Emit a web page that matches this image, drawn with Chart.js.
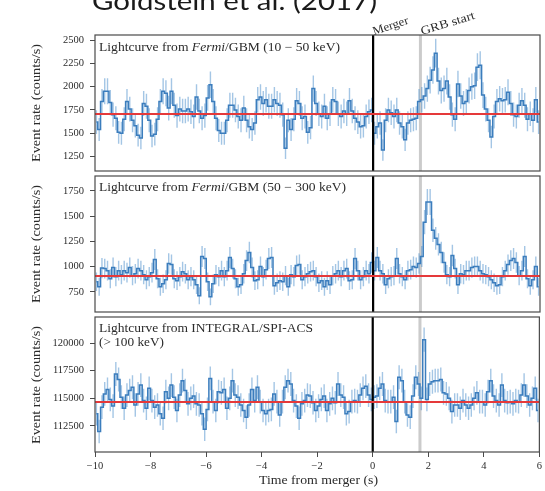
<!DOCTYPE html>
<html>
<head>
<meta charset="utf-8">
<script src="https://cdn.jsdelivr.net/npm/chart.js@4/dist/chart.umd.min.js"></script>
<style>
  html, body { margin: 0; padding: 0; background: #fff; }
  #wrap { position: relative; width: 545px; height: 491px; overflow: hidden; }
  canvas { position: absolute; left: 0; }
  svg { position: absolute; left: 0; top: 0; }
  .serif { font-family: "Liberation Serif", serif; fill: #2b2b2b; }
</style>
</head>
<body>
<div id="wrap">
  <canvas id="gbmLowChart" width="545" height="184" style="top:0px"></canvas>
  <canvas id="gbmHighChart" width="545" height="162" style="top:163px"></canvas>
  <canvas id="spiChart" width="545" height="187" style="top:304px"></canvas>
  <svg width="545" height="491">
    <text x="92" y="10" font-family="Lato, 'Open Sans', sans-serif" font-size="25" fill="#1a1a1a"
          textLength="285" lengthAdjust="spacingAndGlyphs">Goldstein et al. (2017)</text>
    <text class="serif" font-size="12" transform="translate(374,35) rotate(-18)" textLength="37" lengthAdjust="spacingAndGlyphs">Merger</text>
    <text class="serif" font-size="12" transform="translate(422,35) rotate(-17)" textLength="56" lengthAdjust="spacingAndGlyphs">GRB start</text>

    <text class="serif" font-size="12" x="99" y="50.5" textLength="241" lengthAdjust="spacingAndGlyphs">Lightcurve from <tspan font-style="italic">Fermi</tspan>/GBM (10 − 50 keV)</text>
    <text class="serif" font-size="12" x="99" y="191" textLength="247" lengthAdjust="spacingAndGlyphs">Lightcurve from <tspan font-style="italic">Fermi</tspan>/GBM (50 − 300 keV)</text>
    <text class="serif" font-size="12" x="99" y="332" textLength="214" lengthAdjust="spacingAndGlyphs">Lightcurve from INTEGRAL/SPI-ACS</text>
    <text class="serif" font-size="12" x="99" y="345.5" textLength="65" lengthAdjust="spacingAndGlyphs">(&gt; 100 keV)</text>

    <text class="serif" font-size="12" text-anchor="middle" transform="translate(39.5,103) rotate(-90)" textLength="118" lengthAdjust="spacingAndGlyphs">Event rate (counts/s)</text>
    <text class="serif" font-size="12" text-anchor="middle" transform="translate(39.5,244) rotate(-90)" textLength="118" lengthAdjust="spacingAndGlyphs">Event rate (counts/s)</text>
    <text class="serif" font-size="12" text-anchor="middle" transform="translate(39.5,385) rotate(-90)" textLength="118" lengthAdjust="spacingAndGlyphs">Event rate (counts/s)</text>

    <text class="serif" font-size="12" x="318.5" y="484" text-anchor="middle" textLength="119" lengthAdjust="spacingAndGlyphs">Time from merger (s)</text>
  </svg>
</div>
<script>
// 100 ms bins from -10 s to +6 s relative to the merger time
const binStart = -10;
const binWidth = 0.1;
const mergerTime = 0;
const grbStartTime = 1.7;
const xTickValues = [-10, -8, -6, -4, -2, 0, 2, 4, 6];

// Fermi/GBM 10-50 keV event rate (counts/s)
const gbmLowRate = [
  1620,1540,1840,1950,1950,1830,1700,1660,1510,1500,
  1650,1840,1760,1640,1580,1480,1450,1820,1790,1640,
  1470,1490,1650,1840,1950,1930,1770,1950,1800,1690,
  1760,1740,1740,1760,1730,1680,1890,1740,1660,1690,
  1880,2020,1840,1660,1530,1500,1500,1640,1800,1800,
  1750,1680,1640,1770,1640,1570,1540,1610,1860,1890,
  1820,1860,1790,1790,1860,1820,1800,1700,1340,1640,
  1540,1650,1850,1820,1660,1680,1510,1560,1980,1820,
  1710,1680,1790,1660,1710,1860,1840,1710,1680,1740,
  1710,1850,1740,1660,1620,1570,1580,1680,1730,1750,
  1500,1570,1610,1320,1640,1750,1720,1680,1750,1610,
  1570,1430,1610,1640,1650,1660,1840,1860,1900,1980,
  2070,2180,2360,2060,1960,1980,2060,1890,1700,1650,
  2030,1900,1820,1840,1960,2000,2010,2210,2230,1910,
  1760,1640,1460,1680,1840,1870,1850,1860,1940,1820,
  1700,1680,1800,1850,1800,1650,1710,1640,1860,1620
];
const gbmLowBackground = 1708;
const gbmLowRange = [1095, 2555];
const gbmLowTicks = [1250, 1500, 1750, 2000, 2250, 2500];

// Fermi/GBM 50-300 keV event rate (counts/s)
const gbmHighRate = [
  850,800,985,980,960,880,990,900,960,920,
  960,940,990,910,930,980,960,920,870,900,
  940,1070,880,800,830,870,1030,1020,880,860,
  900,950,930,870,900,870,820,710,1100,1080,
  850,700,830,920,900,960,900,960,1090,980,
  880,800,820,930,1060,1140,990,860,870,1000,
  900,970,1080,1090,810,840,860,850,910,800,
  920,900,1010,1020,870,900,930,950,960,900,
  840,860,800,860,820,910,930,960,900,960,
  980,860,870,1080,960,870,900,960,930,1040,
  960,1090,960,930,820,880,900,910,1080,930,
  900,870,960,970,1000,990,1030,1100,1440,1640,
  1640,1360,1280,1220,1140,1040,920,900,1110,980,
  820,930,920,960,960,990,1000,1000,960,930,
  920,900,870,840,810,820,900,960,1020,1060,
  1080,1040,910,960,1100,880,810,870,1000,800
];
const gbmHighBackground = 907;
const gbmHighRange = [550, 1898];
const gbmHighTicks = [750, 1000, 1250, 1500, 1750];

// INTEGRAL/SPI-ACS (> 100 keV) event rate (counts/s)
const spiRate = [
  113600,112000,114200,115400,115800,114900,114300,117200,116700,115100,
  114100,115300,115700,116000,114400,115400,116200,114800,114100,115900,
  114800,114200,114400,113600,113200,115600,115000,116200,115100,113900,
  115300,116600,115700,114500,115000,115200,114500,114400,113600,112200,
  114000,116800,114700,113900,115600,115500,115800,114100,115000,116600,
  115300,115100,114400,113900,113300,114400,115800,114800,116000,114700,
  113900,113600,113900,114000,115400,114700,113500,114700,116000,116600,
  116300,114800,114300,113200,114500,114800,115300,115200,114600,113900,
  114300,114900,115200,113900,114500,115000,114600,116300,115300,115100,
  113600,113800,114700,114800,114700,115300,115900,116100,115300,114900,
  115100,115200,115900,116300,114800,114700,114700,115100,112900,116900,
  116600,114700,113500,113300,115200,116900,116300,115000,120300,114900,
  116300,116500,116600,116600,116700,115500,115400,115000,113800,114400,
  114400,114100,114800,114400,114100,114400,115000,115500,114700,114700,
  114400,115600,116600,115200,114800,114400,116200,114800,114600,114700,
  114500,114800,114700,115300,116200,115200,114400,115000,115900,113900
];
const spiBackground = 114670;
const spiRange = [110150, 122350];
const spiTicks = [112500, 115000, 117500, 120000];

const binCenters = gbmLowRate.map((_, i) => binStart + binWidth * (i + 0.5));
const xMin = binStart;
const xMax = binStart + binWidth * gbmLowRate.length;

const stepColor = '#3b7dbd';
const errColor = 'rgba(74, 142, 204, 0.5)';
const bgColor = '#e5393a';
const tickFont = { family: "'Liberation Serif', serif", size: 10.5 };

// Poisson uncertainty of a rate measured in one bin
function rateError(rate) {
  return Math.sqrt(rate * binWidth) / binWidth;
}

// Vertical error segments, separated by gaps
function errorSegments(rates) {
  const pts = [];
  rates.forEach((r, i) => {
    const e = rateError(r);
    pts.push({ x: binCenters[i], y: r - e });
    pts.push({ x: binCenters[i], y: r + e });
    pts.push({ x: binCenters[i], y: null });
  });
  return pts;
}

const framePlugin = {
  id: 'frame',
  afterDraw(chart) {
    const { ctx, chartArea: a } = chart;
    ctx.save();
    ctx.strokeStyle = '#4a4a4a';
    ctx.lineWidth = 1.2;
    ctx.strokeRect(a.left, a.top, a.right - a.left, a.bottom - a.top);
    ctx.restore();
  }
};

function makePanel(canvasId, rates, background, range, yTicks, pad, showX) {
  const line = (data, color, width, order, extra) => Object.assign({
    data, borderColor: color, borderWidth: width, pointRadius: 0,
    fill: false, order, tension: 0
  }, extra || {});

  const xScale = {
    type: 'linear', min: xMin, max: xMax, display: showX,
    afterBuildTicks: s => { s.ticks = xTickValues.map(v => ({ value: v })); },
    ticks: {
      font: tickFont, color: '#2b2b2b', padding: 3, maxRotation: 0, autoSkip: false,
      callback: v => String(v).replace('-', '\u2212')
    },
    grid: { drawOnChartArea: false, drawTicks: true, tickLength: 5, color: '#4a4a4a' },
    border: { display: false }
  };
  if (showX) xScale.afterFit = s => { s.height = 39; };

  return new Chart(document.getElementById(canvasId), {
    type: 'line',
    data: {
      datasets: [
        line([{ x: xMin, y: background }, { x: xMax, y: background }], bgColor, 2, 0),
        line([{ x: mergerTime, y: range[0] }, { x: mergerTime, y: range[1] }], '#000', 2.2, 1),
        line(binCenters.map((t, i) => ({ x: t, y: rates[i] })), stepColor, 1.5, 2, { stepped: 'middle' }),
        line(errorSegments(rates), errColor, 1.4, 3, { spanGaps: false }),
        line([{ x: grbStartTime, y: range[0] }, { x: grbStartTime, y: range[1] }], '#cbcbcb', 3, 5)
      ]
    },
    options: {
      responsive: false,
      animation: false,
      events: [],
      layout: { padding: { left: 0, right: 5, top: pad[0], bottom: pad[1] } },
      plugins: { legend: { display: false }, tooltip: { enabled: false } },
      scales: {
        x: xScale,
        y: {
          type: 'linear', min: range[0], max: range[1],
          afterFit: s => { s.width = 95; },
          afterBuildTicks: s => { s.ticks = yTicks.map(v => ({ value: v })); },
          ticks: { font: tickFont, color: '#2b2b2b', padding: 6, callback: v => String(v) },
          grid: { drawOnChartArea: false, drawTicks: true, tickLength: 5, color: '#4a4a4a' },
          border: { display: false }
        }
      }
    },
    plugins: [framePlugin]
  });
}

makePanel('gbmLowChart', gbmLowRate, gbmLowBackground, gbmLowRange, gbmLowTicks, [35, 13], false);
makePanel('gbmHighChart', gbmHighRate, gbmHighBackground, gbmHighRange, gbmHighTicks, [13, 13], false);
makePanel('spiChart', spiRate, spiBackground, spiRange, spiTicks, [13, 0], true);
</script>
</body>
</html>
